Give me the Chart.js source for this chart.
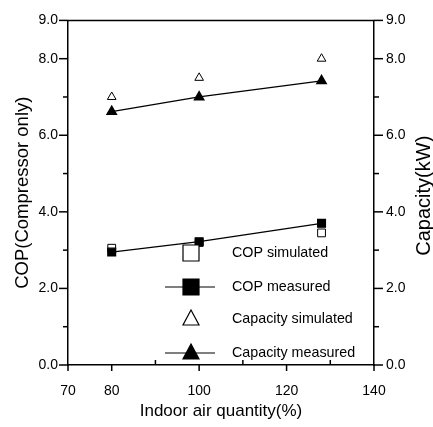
<!DOCTYPE html>
<html>
<head>
<meta charset="utf-8">
<script src="https://cdn.jsdelivr.net/npm/chart.js@4/dist/chart.umd.min.js"></script>
<style>
  html, body { margin: 0; padding: 0; background: #fff; }
  #wrap { width: 433px; height: 427px; }
</style>
</head>
<body>
<div id="wrap"><canvas id="copChart"></canvas></div>
<script>
// Data block
const airQuantity = [80, 100, 128];
const copSimulated = [3.05, 3.2, 3.45];
const copMeasured = [2.95, 3.22, 3.7];
const capSimulated = [7.0, 7.5, 8.0];
const capMeasured = [6.62, 7.0, 7.42];

const xLabelled = [70, 80, 100, 120, 140];
const yLabelled = [0, 2, 4, 6, 8, 9];

const legendItems = ['COP simulated', 'COP measured', 'Capacity simulated', 'Capacity measured'];

const FONT = "'Liberation Sans', Arial, sans-serif";

function pts(ys) {
    return airQuantity.map((x, i) => ({x: x, y: ys[i]}));
}

// Axis ticks + frame + y titles plugin
const tickMarks = {
    id: 'tickMarks',
    afterDraw(chart) {
        const ctx = chart.ctx;
        const a = chart.chartArea;
        ctx.save();
        ctx.strokeStyle = '#000';
        ctx.lineWidth = 1.5;
        // frame top line
        ctx.beginPath();
        ctx.moveTo(a.left, a.top);
        ctx.lineTo(a.right, a.top);
        ctx.stroke();
        // x ticks: major outside, minor inside
        const xs = chart.scales.x;
        xs.ticks.forEach(t => {
            const px = xs.getPixelForValue(t.value);
            const major = xLabelled.includes(t.value);
            ctx.beginPath();
            if (major) { ctx.moveTo(px, a.bottom); ctx.lineTo(px, a.bottom + 6); }
            else { ctx.moveTo(px, a.bottom); ctx.lineTo(px, a.bottom - 5); }
            ctx.stroke();
        });
        ['y', 'y2'].forEach(id => {
            const sc = chart.scales[id];
            const left = id === 'y';
            const base = left ? a.left : a.right;
            sc.ticks.forEach(t => {
                const py = sc.getPixelForValue(t.value);
                const len = yLabelled.includes(t.value) ? 9 : 5;
                ctx.beginPath();
                ctx.moveTo(base, py);
                ctx.lineTo(left ? base - len : base + len, py);
                ctx.stroke();
            });
        });
        // y titles, both reading bottom to top
        ctx.fillStyle = '#000';
        ctx.textAlign = 'center';
        ctx.textBaseline = 'middle';
        const midY = (a.top + a.bottom) / 2;
        ctx.save();
        ctx.translate(a.left - 45, midY);
        ctx.rotate(-Math.PI / 2);
        ctx.font = '18.5px ' + FONT;
        ctx.fillText('COP(Compressor only)', 0, 0);
        ctx.restore();
        ctx.save();
        ctx.translate(a.right + 50, midY + 3);
        ctx.rotate(-Math.PI / 2);
        ctx.font = '20px ' + FONT;
        ctx.fillText('Capacity(kW)', 0, 0);
        ctx.restore();
        ctx.restore();
    }
};

// Legend inside the plot
const innerLegend = {
    id: 'innerLegend',
    afterDraw(chart) {
        const ctx = chart.ctx;
        const a = chart.chartArea;
        const mx = a.left + 123;
        const tx = a.left + 164;
        const rows = [a.bottom - 112, a.bottom - 78, a.bottom - 46, a.bottom - 12];
        ctx.save();
        ctx.strokeStyle = '#000';
        ctx.fillStyle = '#000';
        ctx.lineWidth = 1.2;
        rows.forEach((y, i) => {
            if (i === 1 || i === 3) {
                ctx.beginPath();
                ctx.moveTo(mx - 26, y);
                ctx.lineTo(mx + 24, y);
                ctx.stroke();
            }
            ctx.beginPath();
            if (i < 2) {
                ctx.rect(mx - 8, y - 8, 16, 16);
            } else {
                ctx.moveTo(mx, y - 9);
                ctx.lineTo(mx + 8, y + 6);
                ctx.lineTo(mx - 8, y + 6);
                ctx.closePath();
            }
            ctx.fillStyle = (i % 2 === 1) ? '#000' : '#fff';
            ctx.fill();
            ctx.stroke();
            ctx.fillStyle = '#000';
            ctx.font = '14.3px ' + FONT;
            ctx.textBaseline = 'middle';
            ctx.fillText(legendItems[i], tx, y);
        });
        ctx.restore();
    }
};

const config = {
    type: 'scatter',
    data: {
        datasets: [
            {
                label: 'COP measured', data: pts(copMeasured), yAxisID: 'y',
                showLine: true, borderColor: '#000', borderWidth: 1.3,
                pointStyle: 'rect', pointRadius: 5.5,
                pointBackgroundColor: '#000', pointBorderColor: '#000'
            },
            {
                label: 'Capacity measured', data: pts(capMeasured), yAxisID: 'y2',
                showLine: true, borderColor: '#000', borderWidth: 1.3,
                pointStyle: 'triangle', pointRadius: 5.5,
                pointBackgroundColor: '#000', pointBorderColor: '#000'
            },
            {
                label: 'COP simulated', data: pts(copSimulated), yAxisID: 'y',
                pointStyle: 'rect', pointRadius: 5.5, pointBorderWidth: 1,
                pointBackgroundColor: '#fff', pointBorderColor: '#000'
            },
            {
                label: 'Capacity simulated', data: pts(capSimulated), yAxisID: 'y2',
                pointStyle: 'triangle', pointRadius: 5, pointBorderWidth: 1,
                pointBackgroundColor: '#fff', pointBorderColor: '#000'
            }
        ]
    },
    options: {
        responsive: true,
        maintainAspectRatio: false,
        animation: false,
        layout: { padding: { top: 2, bottom: 0, left: 0, right: 0 } },
        plugins: {
            legend: { display: false },
            tooltip: { enabled: false }
        },
        scales: {
            x: {
                type: 'linear', min: 70, max: 140,
                border: { color: '#000', width: 1.5 },
                grid: { display: false, drawTicks: false },
                ticks: {
                    stepSize: 10, padding: 18, color: '#000',
                    font: { family: FONT, size: 14 },
                    callback: v => xLabelled.includes(v) ? String(v) : ''
                },
                title: {
                    display: true, text: 'Indoor air quantity(%)', color: '#000',
                    font: { family: FONT, size: 17 }, padding: { top: 0, bottom: 5 }
                },
                afterFit(s) { s.height = 62; }
            },
            y: {
                position: 'left', min: 0, max: 9,
                border: { color: '#000', width: 1.5 },
                grid: { display: false, drawTicks: false },
                ticks: {
                    stepSize: 1, padding: 10, color: '#000',
                    font: { family: FONT, size: 14 },
                    callback: v => yLabelled.includes(v) ? v.toFixed(1) : ''
                },
                afterFit(s) { s.width = 68; }
            },
            y2: {
                position: 'right', min: 0, max: 9,
                border: { color: '#000', width: 1.5 },
                grid: { display: false, drawTicks: false },
                ticks: {
                    stepSize: 1, padding: 12, color: '#000',
                    font: { family: FONT, size: 14 },
                    callback: v => yLabelled.includes(v) ? v.toFixed(1) : ''
                },
                afterFit(s) { s.width = 59; }
            }
        }
    },
    plugins: [tickMarks, innerLegend]
};

const copChart = new Chart(document.getElementById('copChart'), config);
</script>
</body>
</html>
